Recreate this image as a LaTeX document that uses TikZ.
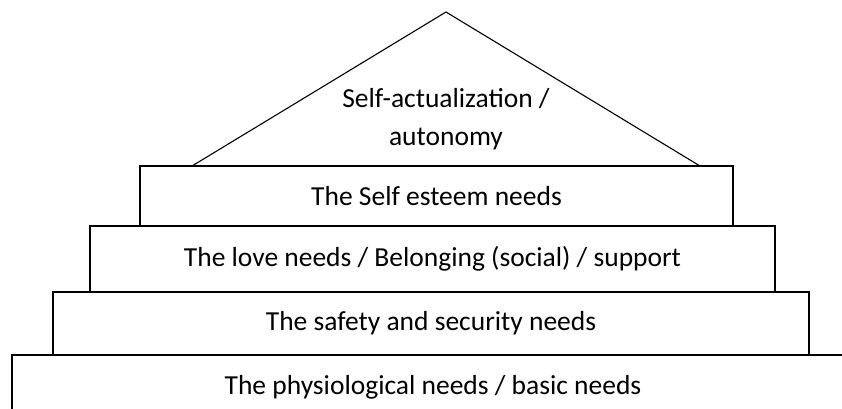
\documentclass[tikz,border=0pt]{standalone}
\usepackage{fontspec}
\setmainfont{Carlito}

\begin{document}
\begin{tikzpicture}[
  x=1pt,
  y=-1pt,
  every node/.style={font=\fontsize{27.5}{38}\selectfont, black},
  tier/.style={draw, line width=1.1pt, inner sep=0pt},
  roof/.style={line width=1.1pt, line join=miter},
]
  % ---- page frame; the lowest tier runs off the page --------------------
  \clip (0,0) rectangle (842,408);

  % ---- the lowest tier -------------------------------------------------
  \draw[tier] (12,430) -- (12,355) -- (870,355);
  \node (basic) at (433,387) {The physiological needs / basic needs};

  % ---- the middle tiers, stacked ----------------------------------------
  \node[tier, minimum width=756, minimum height=63] (safety)
    at (431,323.5) {The safety and security needs};
  \node[tier, minimum width=685, minimum height=66] (love)
    at (432.5,259) {The love needs / Belonging (social) / support};
  \node[tier, minimum width=593, minimum height=60] (esteem)
    at (436.5,196) {The Self esteem needs};

  % ---- the roof on top of the esteem tier --------------------------------
  \coordinate (apex) at (446,12);
  \coordinate (eaveL) at (192,166);
  \coordinate (eaveR) at (700,166);
  \draw[roof] (eaveL) -- (apex) -- (eaveR);
  \node[align=center] (top) at (446,119) {Self-actualization /\\autonomy};

\end{tikzpicture}
\end{document}
